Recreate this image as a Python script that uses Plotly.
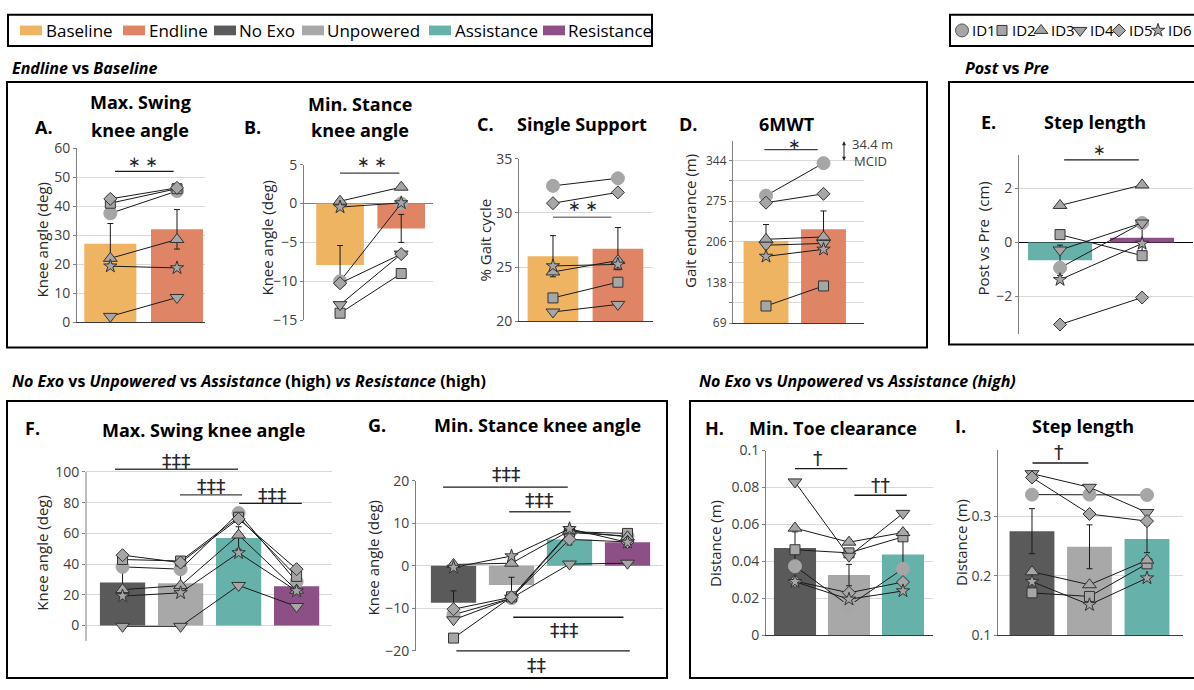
import plotly.graph_objects as go

W, H = 1194, 690
FONT = "Open Sans"
SIGFONT = "DejaVu Sans"

# ---------------- categories, colours ----------------
ENDLINE_CATS = ["Baseline", "Endline"]
POSTPRE_CATS = ["Assistance", "Resistance"]
FOUR_CATS = ["No Exo", "Unpowered", "Assistance", "Resistance"]
THREE_CATS = ["No Exo", "Unpowered", "Assistance"]
CAT_COLORS = {"Baseline": "#EEB461", "Endline": "#DF8566", "No Exo": "#5A5A5A",
              "Unpowered": "#A8A8A8", "Assistance": "#66B2AA", "Resistance": "#8C5086"}
ID_LABELS = ["ID1", "ID2", "ID3", "ID4", "ID5", "ID6"]
ID_SYMBOLS = ["circle", "square", "triangle-up", "triangle-down", "diamond", "star"]
ID_SIZES = [13, 10, 12, 12, 10, 10]

# ---------------- data (rows = ID1..ID6) ----------------
A_means = [27.0, 32.0]
A_sd = [7.0, 6.8]
A_ids = [[37.5, 45.2], [41.0, 46.0], [22.0, 28.5], [2.0, 8.5], [42.5, 46.3], [19.3, 18.7]]
A_ticks = [0, 10, 20, 30, 40, 50, 60]

B_means = [-7.9, -3.2]
B_sd = [2.5, 1.8]
B_ids = [[-10.0, 0.0], [-14.1, -9.0], [0.3, 2.1], [-13.0, -6.5], [-10.25, -6.5], [-0.46, 0.08]]
B_ticks = [-15, -10, -5, 0, 5]

C_means = [26.0, 26.7]
C_sd = [1.9, 1.95]
C_ids = [[32.5, 33.2], [22.15, 23.6], [24.55, 25.6], [20.85, 21.55], [30.9, 31.9], [25.1, 25.25]]
C_ticks = [20, 25, 30, 35]

D_means = [208.0, 228.0]
D_sd = [28.0, 31.0]
D_ids = [[285, 340], [98, 132], [211, 215], [201, 204], [273, 288], [182, 194]]
D_ticks = [69, 103.4, 137.8, 172.2, 206.6, 241.0, 275.4, 309.8, 344.2]
D_ticktext = ["69", "", "138", "", "206", "", "275", "", "344"]

E_means = [-0.66, 0.17]
E_sd = [0.56, 0.55]
E_ids = [[-0.94, 0.72], [0.29, -0.49], [1.37, 2.13], [-0.28, 0.72], [-3.04, -2.04], [-1.38, -0.04]]
E_ticks = [-2, 0, 2]

F_means = [28.0, 27.5, 57.0, 25.5]
F_sd = [7.6, 7.2, 7.3, 3.8]
F_ids = [[38.2, 36.7, 73.2, 28.5], [43.0, 42.0, 70.5, 32.0], [23.4, 26.0, 58.9, 23.0],
         [-0.5, -0.5, 26.1, 12.4], [45.8, 41.0, 69.4, 36.7], [19.2, 21.3, 47.3, 22.5]]
F_ticks = [0, 20, 40, 60, 80, 100]

G_means = [-8.7, -4.5, 6.2, 5.5]
G_sd = [2.8, 1.8, 1.3, 1.1]
G_ids = [[-11.5, -7.6, 7.8, 7.0], [-17.0, -7.3, 8.0, 7.6], [0.3, 0.6, 8.2, 6.8],
         [-12.7, -7.6, 0.4, 0.6], [-10.2, -7.4, 6.2, 5.6], [-0.4, 2.3, 8.7, 5.5]]
G_ticks = [-20, -10, 0, 10, 20]

H_means = [0.0472, 0.0326, 0.0437]
H_sd = [0.0088, 0.0058, 0.0090]
H_ids = [[0.0374, 0.0160, 0.0360], [0.0463, 0.0446, 0.0533], [0.0580, 0.0504, 0.0556],
         [0.0830, 0.0428, 0.0660], [0.0293, 0.0230, 0.0288], [0.0290, 0.0195, 0.0240]]
H_ticks = [0, 0.02, 0.04, 0.06, 0.08, 0.1]
H_ticktext = ["0", "0.02", "0.04", "0.06", "0.08", "0.1"]

I_means = [0.275, 0.2487, 0.2618]
I_sd = [0.038, 0.037, 0.023]
I_ids = [[0.3367, 0.3367, 0.336], [0.171, 0.165, 0.220], [0.2066, 0.1847, 0.2262],
         [0.372, 0.349, 0.3066], [0.3656, 0.304, 0.292], [0.190, 0.151, 0.196]]
I_ticks = [0.1, 0.2, 0.3]
I_ticktext = ["0.1", "0.2", "0.3"]

# ---------------- panel layout (pixel boxes) ----------------
panels = [
    dict(key="A", cats=ENDLINE_CATS, means=A_means, sd=A_sd, ids=A_ids, xl=77, xr=205, xrange=[-0.5, 1.42],
         yb=321, yt=142, yrange=[0, 60], ticks=A_ticks, ticktext=None, tfs=14, xline=True, yline=True, zero=None,
         ytitle="Knee angle (deg)", ytx=42, yty=236,
         sig=[(0.07, 0.95, 52, "∗ ∗", 0.49, 55.3, "#1a1a1a", 15)]),
    dict(key="B", cats=ENDLINE_CATS, means=B_means, sd=B_sd, ids=B_ids, xl=304, xr=433, xrange=[-0.59, 1.52],
         yb=319, yt=159, yrange=[-15, 5], ticks=B_ticks, ticktext=None, tfs=14, xline=False, yline=True,
         zero="#7f7f7f", ytitle="Knee angle (deg)", ytx=267, yty=234,
         sig=[(0.0, 0.97, 3.9, "∗ ∗", 0.52, 5.3, "#404040", 15)]),
    dict(key="C", cats=ENDLINE_CATS, means=C_means, sd=C_sd, ids=C_ids, xl=519, xr=653, xrange=[-0.523, 1.54],
         yb=320, yt=153, yrange=[20, 35], ticks=C_ticks, ticktext=None, tfs=14, xline=True, yline=True, zero=None,
         ytitle="% Gait cycle", ytx=485, yty=237,
         sig=[(0.0, 0.9, 29.6, "∗ ∗", 0.46, 30.6, "#7f7f7f", 15)]),
    dict(key="D", cats=ENDLINE_CATS, means=D_means, sd=D_sd, ids=D_ids, xl=733, xr=864, xrange=[-0.574, 1.704],
         yb=322, yt=134.4, yrange=[69, 378], ticks=D_ticks, ticktext=D_ticktext, tfs=12, xline=True, yline=True,
         zero=None, ytitle="Gait endurance (m)", ytx=690, yty=217,
         sig=[(-0.03, 0.9, 363, "∗", 0.49, 372, "#404040", 15)]),
    dict(key="E", cats=POSTPRE_CATS, means=E_means, sd=E_sd, ids=E_ids, xl=1019, xr=1193, xrange=[-0.5, 1.62],
         yb=333.4, yt=148.8, yrange=[-3.4, 3.25], ticks=E_ticks, ticktext=None, tfs=14, xline=False, yline=True,
         zero="#000000", ytitle="Post vs Pre  (cm)", ytx=983, yty=235,
         sig=[(0.05, 0.96, 3.06, "∗", 0.48, 3.42, "#1a1a1a", 15)]),
    dict(key="F", cats=FOUR_CATS, means=F_means, sd=F_sd, ids=F_ids, xl=86, xr=332, xrange=[-0.63, 3.61],
         yb=648.8, yt=456, yrange=[-10, 112], ticks=F_ticks, ticktext=None, tfs=14, xline=False, yline=False,
         zero=None, ytitle="Knee angle (deg)", ytx=42, yty=558, axisspan=(-10, 100),
         sig=[(-0.13, 1.99, 101.7, "‡‡‡", 0.93, 107.4, "#404040", 19),
              (0.99, 2.06, 85, "‡‡‡", 1.53, 90.5, "#404040", 19),
              (2.01, 3.09, 79.5, "‡‡‡", 2.58, 85.2, "#1a1a1a", 19)]),
    dict(key="G", cats=FOUR_CATS, means=G_means, sd=G_sd, ids=G_ids, xl=416, xr=663, xrange=[-0.647, 3.612],
         yb=659, yt=484, yrange=[-20, 20], ticks=G_ticks, ticktext=None, tfs=14, xline=False, yline=True,
         zero=None, ytitle="Knee angle (deg)", ytx=373, yty=563,
         sig=[(-0.18, 1.97, 18.5, "‡‡‡", 0.92, 21.6, "#1a1a1a", 19),
              (0.96, 2.02, 12.7, "‡‡‡", 1.49, 15.4, "#404040", 19),
              (1.03, 2.93, -12.1, "‡‡‡", 1.92, -15.0, "#1a1a1a", 19),
              (0.05, 3.04, -20.0, "‡‡", 1.43, -23.3, "#1a1a1a", 19)]),
    dict(key="H", cats=THREE_CATS, means=H_means, sd=H_sd, ids=H_ids, xl=766, xr=933, xrange=[-0.537, 2.556],
         yb=643, yt=453, yrange=[0, 0.1], ticks=H_ticks, ticktext=H_ticktext, tfs=14, xline=True, yline=True,
         zero=None, ytitle="Distance (m)", ytx=715, yty=548,
         sig=[(0.0, 0.97, 0.0902, "†", 0.42, 0.0957, "#1a1a1a", 19),
              (1.1, 2.07, 0.0758, "††", 1.58, 0.0813, "#1a1a1a", 19)]),
    dict(key="I", cats=THREE_CATS, means=I_means, sd=I_sd, ids=I_ids, xl=998, xr=1183, xrange=[-0.591, 2.626],
         yb=642.7, yt=452.7, yrange=[0.1, 0.4115], ticks=I_ticks, ticktext=I_ticktext, tfs=14, xline=True,
         yline=True, zero=None, ytitle="Distance (m)", ytx=961, yty=547,
         sig=[(0.01, 0.98, 0.39, "†", 0.47, 0.4085, "#1a1a1a", 19)]),
]

titles = [  # (text, x_px, y_px)
    ("Max. Swing", 140, 95), ("knee angle", 140, 123), ("Min. Stance", 360, 97), ("knee angle", 360, 123),
    ("Single Support", 582, 117), ("6MWT", 787, 117), ("Step length", 1095, 115),
    ("Max. Swing knee angle", 203, 432), ("Min. Stance knee angle", 537, 427),
    ("Min. Toe clearance", 833, 430), ("Step length", 1083, 428),
]
letters = [("A.", 44, 120), ("B.", 252, 120), ("C.", 485, 117), ("D.", 688, 117), ("E.", 988, 115),
           ("F.", 32, 430), ("G.", 377, 427), ("H.", 715, 430), ("I.", 960, 428)]


def P(px):
    return px / W


def Q(py):
    return 1 - py / H


def to_px(p, x, y):
    px = p["xl"] + (x - p["xrange"][0]) / (p["xrange"][1] - p["xrange"][0]) * (p["xr"] - p["xl"])
    py = p["yb"] + (y - p["yrange"][0]) / (p["yrange"][1] - p["yrange"][0]) * (p["yt"] - p["yb"])
    return px, py


fig = go.Figure()
layout = {}
shapes = []
annotations = []

for i, p in enumerate(panels, start=1):
    xa_name = "xaxis" if i == 1 else f"xaxis{i}"
    ya_name = "yaxis" if i == 1 else f"yaxis{i}"
    xref = "x" if i == 1 else f"x{i}"
    yref = "y" if i == 1 else f"y{i}"
    n = len(p["cats"])
    xs = list(range(n))
    fig.add_trace(go.Bar(
        x=xs, y=p["means"], width=0.78,
        marker=dict(color=[CAT_COLORS[c] for c in p["cats"]], line=dict(width=0)),
        error_y=dict(type="data", array=p["sd"], color="#1a1a1a", thickness=1, width=3),
        xaxis=xref, yaxis=yref, hoverinfo="skip"))
    for k, vals in enumerate(p["ids"]):
        sym = ID_SYMBOLS[k]
        fig.add_trace(go.Scatter(
            x=xs, y=vals, mode="lines+markers", name=ID_LABELS[k],
            line=dict(color="#1a1a1a", width=1),
            marker=dict(symbol=sym, size=ID_SIZES[k], color="#A6A6A6",
                        line=dict(color="#A6A6A6" if sym == "circle" else "#333333", width=1)),
            xaxis=xref, yaxis=yref, hoverinfo="skip"))
    layout[xa_name] = dict(domain=[P(p["xl"]), P(p["xr"])], range=p["xrange"], anchor=yref,
                           showgrid=False, zeroline=False, showticklabels=False, ticks="",
                           showline=p["xline"], linecolor="#3a3a3a", linewidth=1.3, fixedrange=True)
    ya = dict(domain=[Q(p["yb"]), Q(p["yt"])], range=p["yrange"], anchor=xref,
              tickmode="array", tickvals=p["ticks"],
              showgrid=True, gridcolor="#d9d9d9", gridwidth=1,
              showline=p["yline"], linecolor="#808080", linewidth=1,
              ticks="outside", ticklen=3, tickcolor="#808080",
              tickfont=dict(family=FONT, size=p["tfs"], color="#404040"), fixedrange=True)
    if p["ticktext"] is not None:
        ya["ticktext"] = p["ticktext"]
    if p["zero"]:
        ya.update(zeroline=True, zerolinecolor=p["zero"], zerolinewidth=1.3)
    else:
        ya["zeroline"] = False
    layout[ya_name] = ya

    # custom y axis line (panel F stops at 100)
    if "axisspan" in p:
        x0p, y0p = to_px(p, p["xrange"][0], p["axisspan"][0])
        _, y1p = to_px(p, p["xrange"][0], p["axisspan"][1])
        shapes.append(dict(type="line", xref="paper", yref="paper", x0=P(x0p), x1=P(x0p),
                           y0=Q(y0p), y1=Q(y1p), line=dict(color="#808080", width=1), layer="above"))

    # significance bars
    for (sx0, sx1, sy, txt, tx, ty, col, fs) in p["sig"]:
        a0, b0 = to_px(p, sx0, sy)
        a1, _ = to_px(p, sx1, sy)
        shapes.append(dict(type="line", xref="paper", yref="paper", x0=P(a0), x1=P(a1),
                           y0=Q(b0), y1=Q(b0), line=dict(color=col, width=1.3), layer="above"))
        ta, tb = to_px(p, tx, ty)
        annotations.append(dict(text=txt, x=P(ta), y=Q(tb), xref="paper", yref="paper",
                                xanchor="center", yanchor="middle", showarrow=False,
                                font=dict(family=SIGFONT, size=fs, color="#262626")))

    # y-axis title
    annotations.append(dict(text=p["ytitle"], x=P(p["ytx"]), y=Q(p["yty"]), xref="paper", yref="paper",
                            textangle=-90, xanchor="center", yanchor="middle", showarrow=False,
                            font=dict(family=FONT, size=15, color="#262626")))

# panel titles and letters
for txt, x, y in titles:
    annotations.append(dict(text=f"<b>{txt}</b>", x=P(x), y=Q(y), xref="paper", yref="paper",
                            xanchor="center", yanchor="middle", showarrow=False,
                            font=dict(family=FONT, size=18, color="#000000")))
for txt, x, y in letters:
    annotations.append(dict(text=f"<b>{txt}</b>", x=P(x), y=Q(y), xref="paper", yref="paper",
                            xanchor="center", yanchor="middle", showarrow=False,
                            font=dict(family=FONT, size=18, color="#000000")))

# section headers
headers = [
    ("<b><i>Endline</i> vs <i>Baseline</i></b>", 10, 60),
    ("<b><i>Post</i> vs <i>Pre</i></b>", 963, 60),
    ("<b><i>No Exo</i> vs <i>Unpowered</i> vs <i>Assistance</i> (high) <i>vs Resistance</i> (high)</b>", 10, 381),
    ("<b><i>No Exo</i> vs <i>Unpowered</i> vs <i>Assistance (high)</i></b>", 697, 381),
]
for txt, x, y in headers:
    annotations.append(dict(text=txt, x=P(x), y=Q(y), xref="paper", yref="paper",
                            xanchor="left", yanchor="middle", showarrow=False,
                            font=dict(family=FONT, size=16, color="#000000")))

# MCID annotation (panel D)
annotations.append(dict(text="", x=P(844), y=Q(155), xref="paper", yref="paper", ax=0, ay=-21,
                        showarrow=True, arrowhead=2, arrowside="end+start", arrowsize=0.8,
                        arrowwidth=1, arrowcolor="#262626"))
annotations.append(dict(text="34.4 m", x=P(850), y=Q(138), xref="paper", yref="paper",
                        xanchor="left", yanchor="middle", showarrow=False,
                        font=dict(family=FONT, size=13, color="#404040")))
annotations.append(dict(text="MCID", x=P(852), y=Q(155), xref="paper", yref="paper",
                        xanchor="left", yanchor="middle", showarrow=False,
                        font=dict(family=FONT, size=13, color="#404040")))

# frames
def frame(x0, y0, x1, y1):
    shapes.append(dict(type="rect", xref="paper", yref="paper", x0=P(x0), x1=P(x1), y0=Q(y1), y1=Q(y0),
                       line=dict(color="#000000", width=2), fillcolor="rgba(0,0,0,0)", layer="above"))

frame(7, 74, 927, 347)
frame(949, 74, 1200, 344)
frame(7, 402, 667, 687)
frame(690, 402, 1200, 687)

# legend 1 (group colours)
frame(8, 5, 652, 37)
leg1 = [("Baseline", 20, 44), ("Endline", 123, 147), ("No Exo", 214, 237),
        ("Unpowered", 302, 325), ("Assistance", 429, 453), ("Resistance", 543, 566)]
for name, sx, tx in leg1:
    shapes.append(dict(type="rect", xref="paper", yref="paper", x0=P(sx), x1=P(sx + 22),
                       y0=Q(26), y1=Q(16), line=dict(width=0), fillcolor=CAT_COLORS[name], layer="above"))
    annotations.append(dict(text=name, x=P(tx), y=Q(21), xref="paper", yref="paper",
                            xanchor="left", yanchor="middle", showarrow=False,
                            font=dict(family=FONT, size=17, color="#000000")))

# legend 2 (participant markers)
frame(950, 5, 1210, 37)
leg2_x = [962, 1002, 1041, 1080, 1119, 1158]
layout["xaxis10"] = dict(domain=[P(950), 1], range=[950, 1194], visible=False, anchor="y10", fixedrange=True)
layout["yaxis10"] = dict(domain=[Q(37), Q(5)], range=[37, 5], visible=False, anchor="x10", fixedrange=True)
for k in range(6):
    sym = ID_SYMBOLS[k]
    fig.add_trace(go.Scatter(
        x=[leg2_x[k]], y=[21], mode="markers", xaxis="x10", yaxis="y10", hoverinfo="skip",
        marker=dict(symbol=sym, size=ID_SIZES[k], color="#A6A6A6",
                    line=dict(color="#555555" if sym == "circle" else "#333333", width=1))))
    annotations.append(dict(text=ID_LABELS[k], x=P(leg2_x[k] + 8), y=Q(21), xref="paper", yref="paper",
                            xanchor="left", yanchor="middle", showarrow=False,
                            font=dict(family=FONT, size=15, color="#000000")))

fig.update_layout(width=W, height=H, margin=dict(l=0, r=0, t=0, b=0), showlegend=False,
                  paper_bgcolor="white", plot_bgcolor="rgba(0,0,0,0)",
                  shapes=shapes, annotations=annotations, **layout)

fig.write_html("out.html", config={"displayModeBar": False},
               post_script="document.body.style.margin='0';")
